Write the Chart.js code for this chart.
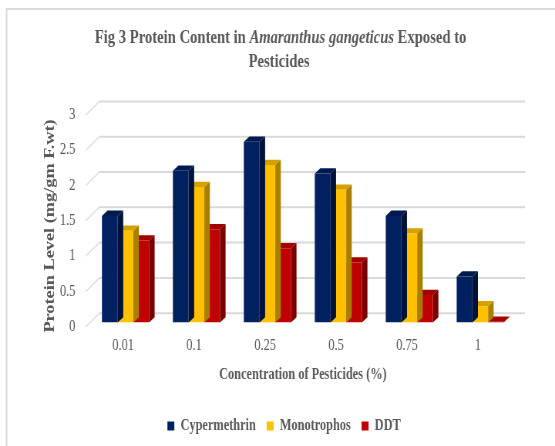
<!DOCTYPE html>
<html>
<head>
<meta charset="utf-8">
<script src="https://cdn.jsdelivr.net/npm/chart.js@4.4.1/dist/chart.umd.min.js"></script>
<style>
html, body { margin: 0; padding: 0; background: #fff; overflow: hidden; }
#chart { display: block; }
</style>
</head>
<body>
<!-- drawn on a wider canvas and squeezed to 555px, like the narrow Excel export -->
<canvas id="chart" width="720" height="446" style="width:555px;height:446px"></canvas>
<script>
const categories = ['0.01', '0.1', '0.25', '0.5', '0.75', '1'];
const cypermethrin = [1.51, 2.15, 2.56, 2.11, 1.51, 0.65];
const monotrophos = [1.30, 1.92, 2.23, 1.88, 1.26, 0.23];
const ddt = [1.16, 1.32, 1.05, 0.85, 0.39, 0.01];
const seriesNames = ['Cypermethrin', 'Monotrophos', 'DDT'];
const yTicks = [0, 0.5, 1, 1.5, 2, 2.5, 3];
const yTickLabels = ['0', '0.5', '1', '1.5', '2', '2.5', '3'];

const serif = "'Liberation Serif', 'Times New Roman', serif";
const grey = '#595959';
const fronts = ['#002060', '#FFC000', '#C00000'];
const tops = ['#001a4f', '#d6a100', '#a30000'];
const sides = ['#00123a', '#a88000', '#7a0000'];

// 3D offsets (canvas px)
const depth = { dx: 7.2, dy: -5.3 };
const back = { dx: 12.1, dy: -9.3 };
const front = { dx: -5.5, dy: 4.2 };

const framePlugin = {
    id: 'frame',
    afterLayout(chart) {
        // Excel centres the legend on the whole frame, not on the plot
        const lg = chart.legend;
        if (lg) { lg.left += 34; lg.right += 34; }
    },
    beforeDraw(chart) {
        const ctx = chart.ctx;
        ctx.save();
        ctx.fillStyle = '#fff';
        ctx.fillRect(0, 0, chart.width, chart.height);
        ctx.strokeStyle = '#d9d9d9';
        ctx.lineWidth = 2;
        ctx.strokeRect(8.5, 9, chart.width + 20, chart.height + 20);

        // title with italic species name
        const parts = [
            ['bold 19px ' + serif, 'Fig 3 Protein Content in '],
            ['italic bold 19px ' + serif, 'Amaranthus gangeticus'],
            ['bold 19px ' + serif, ' Exposed to']
        ];
        let total = 0;
        parts.forEach(p => { ctx.font = p[0]; total += ctx.measureText(p[1]).width; });
        let x = 364 - total / 2;
        ctx.fillStyle = grey;
        ctx.textBaseline = 'alphabetic';
        ctx.textAlign = 'left';
        parts.forEach(p => {
            ctx.font = p[0];
            ctx.fillText(p[1], x, 42.7);
            x += ctx.measureText(p[1]).width;
        });
        ctx.font = 'bold 19px ' + serif;
        ctx.textAlign = 'center';
        ctx.fillText('Pesticides', 362, 67.3);

        // y axis title
        ctx.translate(65, 226);
        ctx.rotate(-Math.PI / 2);
        ctx.font = 'bold 18.3px ' + serif;
        ctx.textBaseline = 'middle';
        ctx.fillText('Protein Level (mg/gm F.wt)', 0, 0);
        ctx.restore();
    },
    beforeDatasetsDraw(chart) {
        const ctx = chart.ctx;
        const ys = chart.scales.y;
        const { left, right } = chart.chartArea;
        ctx.save();
        ctx.strokeStyle = '#d9d9d9';
        yTicks.forEach(v => {
            const y = ys.getPixelForValue(v);
            ctx.lineWidth = 2;
            ctx.beginPath();
            ctx.moveTo(left + back.dx, y + back.dy);
            ctx.lineTo(right + back.dx, y + back.dy);
            ctx.stroke();
            ctx.lineWidth = 1.2;
            ctx.beginPath();
            ctx.moveTo(left + front.dx, y + front.dy);
            ctx.lineTo(left + back.dx, y + back.dy);
            ctx.stroke();
        });
        ctx.restore();
    },
    beforeDatasetDraw(chart, args) {
        const ctx = chart.ctx;
        const i = args.index;
        ctx.save();
        args.meta.data.forEach(bar => {
            const p = bar.getProps(['x', 'y', 'base', 'width'], true);
            const l = p.x - p.width / 2, r = p.x + p.width / 2;
            ctx.fillStyle = sides[i];
            ctx.beginPath();
            ctx.moveTo(r, p.y);
            ctx.lineTo(r + depth.dx, p.y + depth.dy);
            ctx.lineTo(r + depth.dx, p.base + depth.dy);
            ctx.lineTo(r, p.base);
            ctx.closePath();
            ctx.fill();
            ctx.fillStyle = tops[i];
            ctx.beginPath();
            ctx.moveTo(l, p.y);
            ctx.lineTo(l + depth.dx, p.y + depth.dy);
            ctx.lineTo(r + depth.dx, p.y + depth.dy);
            ctx.lineTo(r, p.y);
            ctx.closePath();
            ctx.fill();
        });
        ctx.restore();
    }
};

const values = [cypermethrin, monotrophos, ddt];

new Chart(document.getElementById('chart'), {
    type: 'bar',
    data: {
        labels: categories,
        datasets: values.map((v, i) => ({
            label: seriesNames[i],
            data: v,
            backgroundColor: fronts[i],
            borderWidth: 0,
            categoryPercentage: 0.664,
            barPercentage: 1
        }))
    },
    options: {
        responsive: false,
        animation: false,
        devicePixelRatio: 1,
        layout: { padding: { top: 110.7, left: 0, right: 51, bottom: 2 } },
        plugins: {
            tooltip: { enabled: false },
            legend: {
                position: 'bottom',
                labels: {
                    color: grey,
                    boxWidth: 9,
                    boxHeight: 9,
                    padding: 14,
                    font: { family: serif, size: 16, weight: 'bold' }
                }
            }
        },
        scales: {
            x: {
                grid: { display: false, drawTicks: false },
                border: { display: false },
                ticks: { color: grey, padding: 14, labelOffset: -3, font: { family: serif, size: 16 } },
                title: {
                    display: true,
                    text: 'Concentration of Pesticides (%)',
                    color: grey,
                    padding: { top: 0, bottom: 20 },
                    font: { family: serif, size: 16, weight: 'bold' }
                },
                afterFit(s) { s.height = 81.5; }
            },
            y: {
                min: 0,
                max: 3,
                grid: { display: false, drawTicks: false },
                border: { display: false },
                afterBuildTicks(s) { s.ticks = yTicks.map(v => ({ value: v })); },
                ticks: {
                    color: grey,
                    padding: 19,
                    labelOffset: 4.2,
                    font: { family: serif, size: 16 },
                    callback: (v, i) => yTickLabels[i]
                },
                afterFit(s) { s.width = 116.8; }
            }
        }
    },
    plugins: [framePlugin]
});
</script>
</body>
</html>
